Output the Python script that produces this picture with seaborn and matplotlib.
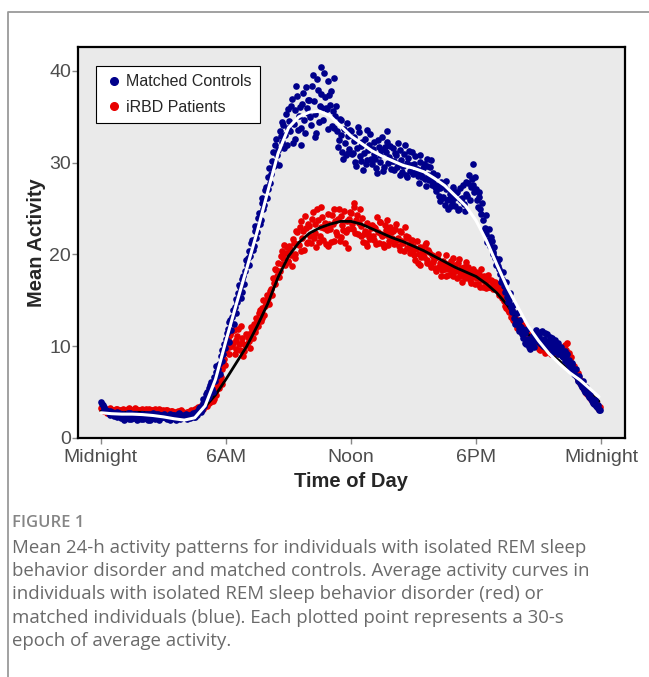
import numpy as np
import pandas as pd
import matplotlib
matplotlib.use("Agg")
import matplotlib.pyplot as plt
from matplotlib.lines import Line2D
import seaborn as sns

# mean activity: 5-minute epochs, one row per hour (12 values each)
controls_activity = [
    3.9, 3.6, 3.2, 3.0, 2.8, 2.9, 2.6, 2.7, 2.5, 2.8, 2.4, 2.6,
    2.3, 2.6, 2.2, 2.5, 2.1, 2.7, 2.4, 2.2, 2.6, 2.3, 2.5, 2.1,
    2.4, 2.2, 2.6, 2.0, 2.5, 2.3, 2.7, 2.1, 2.4, 2.6, 2.2, 2.5,
    2.3, 2.5, 2.1, 2.4, 2.6, 2.2, 2.5, 2.0, 2.3, 2.7, 2.2, 2.4,
    2.3, 2.6, 2.2, 2.5, 2.4, 2.7, 2.3, 2.6, 2.9, 3.4, 3.1, 3.8,
    4.2, 5.0, 4.6, 5.8, 5.3, 6.6, 7.2, 6.8, 8.1, 8.9, 8.4, 10.2,
    10.8, 11.9, 12.6, 11.8, 13.9, 14.3, 13.6, 15.8, 16.4, 15.9, 17.6, 18.2,
    18.9, 20.4, 19.8, 21.6, 20.9, 23.1, 22.4, 24.5, 23.8, 26.2, 25.4, 27.3,
    27.1, 29.4, 28.8, 31.2, 30.1, 32.6, 31.4, 33.5, 32.2, 34.1, 33.0, 31.9,
    35.8, 33.4, 36.9, 34.2, 32.6, 37.3, 35.1, 33.8, 36.4, 34.7, 38.2, 35.4,
    36.8, 34.1, 39.6, 35.3, 33.2, 37.9, 36.2, 40.4, 34.6, 37.1, 35.8, 38.9,
    36.3, 34.0, 39.2, 35.1, 33.4, 32.5, 34.6, 31.2, 33.7, 30.8, 32.9, 31.5,
    33.5, 31.0, 32.4, 29.6, 33.9, 30.7, 31.8, 29.2, 32.6, 30.3, 31.4, 33.1,
    29.8, 32.2, 30.4, 28.9, 31.7, 30.1, 32.8, 29.5, 31.2, 33.4, 30.6, 29.3,
    31.6, 29.2, 30.8, 32.1, 28.7, 30.3, 29.6, 31.9, 28.4, 30.5, 29.1, 31.2,
    28.9, 30.7, 29.3, 27.8, 30.1, 28.4, 29.8, 27.5, 29.6, 28.1, 30.3, 27.9,
    28.4, 26.9, 27.6, 25.8, 27.9, 26.3, 25.4, 27.1, 24.9, 26.6, 25.7, 27.4,
    25.3, 26.8, 24.9, 27.2, 26.1, 25.5, 27.9, 26.4, 28.6, 27.3, 29.9, 26.8,
    27.1, 25.2, 26.3, 24.4, 23.8, 22.9, 22.2, 21.6, 20.9, 21.5, 20.1, 19.6,
    19.2, 18.4, 17.9, 17.3, 16.6, 16.1, 15.4, 15.0, 14.3, 13.9, 13.1, 12.8,
    12.6, 11.7, 12.1, 10.9, 11.4, 10.2, 10.8, 9.7, 10.3, 11.2, 10.6, 11.5,
    11.1, 10.4, 11.7, 10.8, 10.1, 11.3, 10.5, 9.8, 10.9, 10.2, 9.6, 10.4,
    9.3, 9.9, 8.8, 9.5, 8.6, 8.1, 7.7, 7.9, 7.3, 6.9, 6.6, 6.2,
    6.0, 5.6, 5.2, 5.4, 4.9, 4.5, 4.2, 4.0, 3.7, 3.5, 3.3, 3.1,
]
# the epochs in between (2.5 minutes later)
controls_activity_mid = [
    3.7, 3.4, 3.1, 2.9, 2.7, 2.5, 2.8, 2.4, 2.6, 2.3, 2.7, 2.2,
    2.5, 2.0, 2.4, 2.7, 2.3, 2.1, 2.6, 2.4, 2.0, 2.5, 2.2, 2.6,
    2.1, 2.5, 2.3, 2.6, 2.0, 2.4, 2.2, 2.6, 2.3, 2.0, 2.5, 2.3,
    2.6, 2.2, 2.4, 2.0, 2.3, 2.5, 2.1, 2.4, 2.6, 2.1, 2.5, 2.3,
    2.5, 2.1, 2.4, 2.2, 2.6, 2.3, 2.8, 2.5, 3.3, 2.8, 4.2, 3.5,
    4.8, 4.4, 5.5, 6.1, 5.0, 6.2, 7.8, 7.5, 7.0, 9.6, 9.1, 9.8,
    11.4, 10.5, 12.9, 13.2, 12.4, 15.1, 14.8, 16.7, 15.2, 17.3, 16.8, 19.4,
    19.6, 18.8, 21.2, 20.5, 22.6, 21.8, 24.0, 23.3, 25.6, 24.9, 27.0, 26.1,
    28.4, 27.8, 30.2, 29.6, 31.9, 30.8, 29.7, 32.9, 34.4, 31.6, 35.3, 33.8,
    34.5, 36.2, 32.1, 35.7, 38.4, 33.6, 36.1, 31.9, 37.6, 33.2, 35.9, 36.8,
    35.0, 38.3, 36.7, 32.8, 39.1, 34.4, 37.5, 35.9, 39.8, 36.0, 33.7, 37.4,
    37.8, 35.6, 33.8, 36.2, 31.7, 34.8, 33.0, 30.4, 32.1, 34.3, 31.1, 33.6,
    30.9, 32.8, 30.1, 31.6, 33.3, 30.2, 32.3, 31.1, 29.9, 33.6, 31.9, 30.4,
    31.5, 30.9, 29.4, 32.5, 30.8, 31.4, 29.1, 31.7, 32.2, 30.0, 31.8, 30.2,
    30.2, 31.0, 29.5, 29.9, 31.4, 29.0, 30.9, 28.6, 30.0, 31.3, 29.7, 28.8,
    29.9, 29.0, 28.5, 30.8, 28.8, 29.4, 28.2, 30.4, 28.7, 29.5, 27.6, 28.9,
    27.3, 28.7, 26.4, 27.2, 26.1, 27.5, 28.0, 25.9, 26.0, 25.3, 27.1, 26.2,
    26.7, 24.8, 26.0, 25.9, 27.6, 24.7, 26.6, 27.8, 25.9, 28.2, 27.6, 28.4,
    25.9, 26.8, 24.9, 25.6, 22.6, 24.3, 21.4, 22.8, 21.9, 20.3, 20.8, 18.9,
    18.7, 19.5, 17.0, 18.1, 15.9, 17.0, 14.8, 15.8, 13.7, 14.5, 12.4, 13.6,
    12.0, 12.9, 11.3, 11.8, 10.4, 11.9, 9.9, 10.6, 11.0, 9.9, 11.8, 10.9,
    10.7, 11.5, 10.0, 11.4, 10.6, 9.9, 11.0, 10.3, 9.4, 10.7, 9.9, 9.2,
    9.6, 8.9, 9.2, 8.4, 9.1, 8.5, 7.4, 8.2, 7.0, 7.5, 6.4, 6.8,
    5.8, 6.2, 5.0, 5.6, 4.7, 4.9, 4.4, 3.8, 4.1, 3.4, 3.6, 3.0,
]

irbd_activity = [
    3.3, 3.1, 2.9, 3.2, 2.8, 3.0, 2.7, 3.1, 2.9, 3.2, 2.8, 3.0,
    2.9, 3.2, 2.8, 3.0, 3.3, 2.7, 3.1, 2.9, 3.2, 2.8, 3.0, 3.1,
    3.0, 2.8, 3.2, 2.9, 3.1, 2.7, 3.0, 3.2, 2.8, 2.9, 3.1, 2.7,
    2.9, 2.6, 3.0, 2.8, 2.5, 2.9, 2.7, 2.4, 2.8, 2.6, 3.0, 2.5,
    2.7, 2.4, 2.8, 2.6, 3.0, 2.7, 3.2, 2.9, 3.4, 3.1, 3.6, 3.3,
    3.8, 3.5, 4.1, 3.9, 4.6, 4.3, 5.2, 5.8, 5.4, 6.7, 7.5, 8.6,
    9.4, 10.8, 9.9, 11.6, 10.3, 9.1, 10.7, 11.9, 9.6, 10.4, 8.9, 10.1,
    10.2, 11.3, 9.8, 11.8, 12.4, 11.5, 12.9, 13.6, 12.7, 14.2, 13.4, 14.8,
    15.3, 14.6, 16.2, 17.4, 16.8, 18.3, 19.1, 18.2, 20.4, 19.6, 18.9, 20.8,
    19.2, 20.6, 18.7, 21.3, 20.1, 22.4, 21.0, 23.6, 21.8, 20.5, 22.9, 21.4,
    23.1, 21.2, 24.6, 22.3, 20.8, 23.7, 22.0, 25.2, 21.6, 23.4, 22.7, 20.9,
    22.8, 24.3, 21.5, 23.6, 22.1, 25.0, 21.9, 23.2, 24.7, 22.4, 20.7, 23.9,
    24.5, 22.8, 25.6, 23.7, 22.2, 24.9, 23.1, 21.4, 22.6, 20.9, 22.3, 21.7,
    23.2, 21.6, 22.9, 24.1, 21.3, 23.5, 22.0, 20.8, 22.7, 23.8, 21.5, 22.4,
    22.6, 21.1, 23.3, 21.8, 20.5, 22.4, 21.2, 23.0, 20.7, 21.9, 20.2, 21.6,
    20.9, 19.4, 21.5, 20.1, 18.8, 20.6, 19.7, 21.2, 19.1, 20.3, 18.6, 19.8,
    19.5, 18.2, 20.1, 18.7, 17.6, 19.3, 18.4, 19.9, 17.8, 18.9, 18.1, 19.6,
    18.8, 17.4, 19.5, 18.1, 17.0, 18.6, 19.2, 17.7, 18.3, 16.9, 18.0, 17.5,
    18.1, 16.8, 17.6, 18.4, 16.5, 17.3, 16.9, 17.8, 16.4, 17.1, 16.6, 17.0,
    16.4, 15.9, 16.2, 15.3, 14.9, 14.2, 14.6, 13.7, 13.2, 13.6, 12.8, 12.4,
    12.9, 12.1, 11.6, 12.3, 11.2, 11.7, 10.9, 11.4, 10.6, 10.2, 10.8, 10.4,
    10.1, 9.6, 10.5, 9.8, 9.3, 10.2, 9.7, 9.1, 9.9, 9.4, 10.0, 9.5,
    9.2, 9.8, 9.4, 10.1, 9.6, 9.0, 8.4, 7.9, 7.5, 7.0, 6.7, 6.3,
    6.0, 5.7, 5.3, 5.1, 4.8, 4.6, 4.3, 4.1, 3.9, 3.6, 3.4, 3.2,
]
irbd_activity_mid = [
    3.2, 2.9, 3.1, 2.7, 3.0, 3.3, 2.8, 3.0, 3.2, 2.7, 3.1, 2.9,
    3.1, 2.8, 3.0, 3.2, 2.8, 3.1, 2.9, 3.3, 2.8, 3.1, 2.9, 3.2,
    2.8, 3.1, 2.9, 3.2, 2.8, 3.0, 2.8, 2.9, 3.1, 3.2, 2.8, 3.0,
    2.7, 3.0, 2.8, 2.6, 2.9, 2.5, 2.8, 2.6, 2.9, 2.4, 2.7, 2.8,
    2.5, 2.8, 2.6, 2.9, 2.8, 3.1, 2.9, 3.3, 3.0, 3.5, 3.2, 3.9,
    3.6, 4.2, 3.8, 4.5, 4.0, 5.0, 4.7, 6.1, 6.4, 5.9, 8.2, 7.9,
    10.6, 9.2, 11.2, 10.0, 11.8, 9.7, 11.1, 10.2, 12.2, 10.9, 9.5, 11.3,
    11.0, 10.6, 12.1, 10.9, 11.9, 13.1, 12.2, 14.0, 13.1, 15.0, 14.4, 15.6,
    14.7, 16.0, 15.6, 16.9, 18.4, 17.6, 17.5, 19.8, 19.0, 21.0, 20.2, 19.3,
    20.9, 19.9, 21.7, 19.6, 22.5, 21.1, 23.0, 20.4, 22.6, 24.2, 21.3, 23.3,
    22.0, 23.9, 21.8, 23.3, 24.9, 21.4, 23.0, 24.1, 22.9, 21.1, 24.4, 23.3,
    21.4, 23.3, 24.9, 22.4, 23.9, 21.5, 24.2, 22.7, 21.3, 23.6, 22.8, 24.6,
    23.3, 25.2, 22.3, 24.3, 23.4, 22.0, 24.0, 22.2, 21.2, 23.4, 21.9, 22.9,
    22.0, 23.0, 21.1, 22.4, 23.5, 22.2, 21.1, 23.2, 22.1, 21.0, 23.0, 21.8,
    21.4, 22.8, 21.6, 20.9, 22.6, 21.5, 20.4, 22.0, 21.8, 20.8, 21.4, 20.5,
    19.9, 20.6, 19.1, 20.8, 19.7, 20.1, 21.0, 19.4, 20.5, 19.0, 19.9, 19.2,
    18.5, 19.7, 18.6, 19.1, 18.3, 18.9, 17.6, 19.0, 18.4, 19.3, 17.7, 18.6,
    18.2, 19.1, 17.7, 18.5, 18.0, 17.4, 18.1, 18.6, 17.2, 17.8, 18.4, 16.8,
    17.4, 17.9, 16.4, 17.2, 17.7, 16.3, 17.5, 16.4, 17.2, 16.2, 16.9, 16.3,
    16.8, 15.6, 15.7, 15.8, 14.4, 14.9, 13.9, 14.1, 13.8, 12.9, 13.1, 12.0,
    12.4, 12.6, 11.9, 11.5, 11.9, 11.0, 11.3, 10.7, 11.1, 10.5, 10.0, 10.9,
    9.7, 10.4, 9.9, 10.2, 9.6, 9.6, 10.1, 9.5, 9.2, 10.3, 9.5, 9.9,
    9.6, 9.1, 9.9, 9.6, 10.3, 9.3, 8.8, 8.1, 7.8, 7.2, 7.1, 6.5,
    6.2, 5.5, 5.6, 4.9, 5.0, 4.4, 4.5, 3.9, 4.0, 3.7, 3.3, 3.4,
]

# smoothed curves, every half hour plus the last epoch
curve_hours = [h / 2 for h in range(48)] + [23.9]
controls_smooth = [
    2.75, 2.65, 2.6, 2.6, 2.55, 2.45, 2.3, 2.1, 1.95, 2.2, 3.5, 6.4,
    10.6, 14.6, 18.5, 22.5, 26.8, 31.0, 33.8, 35.0, 35.5, 35.6, 35.1, 34.0,
    32.9, 32.1, 31.3, 30.7, 30.2, 29.7, 29.4, 29.0, 28.3, 27.5, 26.4, 25.3,
    23.7, 21.5, 18.9, 16.4, 14.3, 12.2, 10.6, 9.2, 8.1, 7.1, 6.3, 5.3, 4.5,
]
irbd_smooth = [
    2.9, 2.85, 2.8, 2.8, 2.8, 2.7, 2.6, 2.45, 2.4, 2.7, 3.4, 4.7,
    6.4, 8.2, 10.0, 12.2, 14.6, 17.5, 19.8, 21.3, 22.3, 22.9, 23.3, 23.6,
    23.6, 23.3, 22.8, 22.3, 21.8, 21.4, 20.9, 20.4, 19.8, 19.2, 18.6, 18.1,
    17.6, 16.8, 15.8, 14.5, 12.8, 11.3, 10.2, 9.3, 8.4, 7.3, 6.0, 4.8, 4.0,
]

tick_hours = [0, 6, 12, 18, 24]
tick_labels = ["Midnight", "6AM", "Noon", "6PM", "Midnight"]

caption_lines = [
    "Mean 24-h activity patterns for individuals with isolated REM sleep",
    "behavior disorder and matched controls. Average activity curves in",
    "individuals with isolated REM sleep behavior disorder (red) or",
    "matched individuals (blue). Each plotted point represents a 30-s",
    "epoch of average activity.",
]

NAVY = "#00008B"
RED = "#E80000"


def epochs(first, mid):
    hours = [i / 12 for i in range(len(first))] + [i / 12 + 1 / 24 for i in range(len(mid))]
    return pd.DataFrame({"hour": hours, "activity": first + mid})


df_ctrl = epochs(controls_activity, controls_activity_mid)
df_irbd = epochs(irbd_activity, irbd_activity_mid)
df_curve = pd.DataFrame({"hour": curve_hours, "ctrl": controls_smooth, "irbd": irbd_smooth})

sns.set_style("white")
plt.rcParams["font.family"] = ["Liberation Sans", "DejaVu Sans"]

fig = plt.figure(figsize=(6.49, 6.77), dpi=100)
ax = fig.add_axes([78 / 649, 1 - 438 / 677, 547 / 649, 391 / 677])
ax.set_facecolor("#EAEAEA")

# draw order: red points, black curve, blue points, white curve
sns.scatterplot(data=df_irbd, x="hour", y="activity", color=RED, s=23,
                linewidth=0, ax=ax, zorder=1)
sns.lineplot(data=df_curve, x="hour", y="irbd", color="black", lw=2,
             ax=ax, zorder=2)
sns.scatterplot(data=df_ctrl, x="hour", y="activity", color=NAVY, s=23,
                linewidth=0, ax=ax, zorder=3)
sns.lineplot(data=df_curve, x="hour", y="ctrl", color="white", lw=2.2,
             ax=ax, zorder=4)

ax.set_xlim(-1.1, 25.15)
ax.set_ylim(0, 42.6)
ax.set_xticks(tick_hours)
ax.set_xticklabels(tick_labels)
ax.set_yticks([0, 10, 20, 30, 40])
ax.tick_params(axis="both", labelsize=14, labelcolor="#4D4D4D", color="#888888",
               length=4, width=1, direction="out", bottom=True, left=True, pad=1)
ax.tick_params(axis="x", pad=4)
ax.set_xlabel("Time of Day", fontsize=14.5, fontweight="bold", labelpad=4)
ax.set_ylabel("Mean Activity", fontsize=14.5, fontweight="bold", labelpad=2)
for sp in ax.spines.values():
    sp.set_color("black")
    sp.set_linewidth(1.6)

handles = [
    Line2D([], [], marker="o", ls="", color=NAVY, markersize=5.5, label="Matched Controls"),
    Line2D([], [], marker="o", ls="", color=RED, markersize=5.5, label="iRBD Patients"),
]
leg = ax.legend(handles=handles, loc="upper left", bbox_to_anchor=(0.033, 0.951),
                fontsize=11.5, frameon=True, fancybox=False, framealpha=1,
                edgecolor="black", handletextpad=0.2, borderpad=0.5,
                labelspacing=0.65, handlelength=1.2, borderaxespad=0)
leg.get_frame().set_linewidth(0.8)

# outer frame of the figure panel
fig.add_artist(Line2D([8 / 649, 8 / 649, 1.0], [0.0, 1 - 12 / 677, 1 - 12 / 677],
                      color="#9A9A9A", lw=1.3))

fig.text(12 / 649, 1 - 523 / 677, "FIGURE 1", fontsize=12, color="#858585",
         fontweight="semibold", family=["Open Sans", "DejaVu Sans"], va="center")
for i, line in enumerate(caption_lines):
    fig.text(12 / 649, 1 - (548 + 23.2 * i) / 677, line, fontsize=13.4,
             color="#6A6A6A", family=["Open Sans", "DejaVu Sans"], va="center")

fig.savefig("out.png", dpi=100)
